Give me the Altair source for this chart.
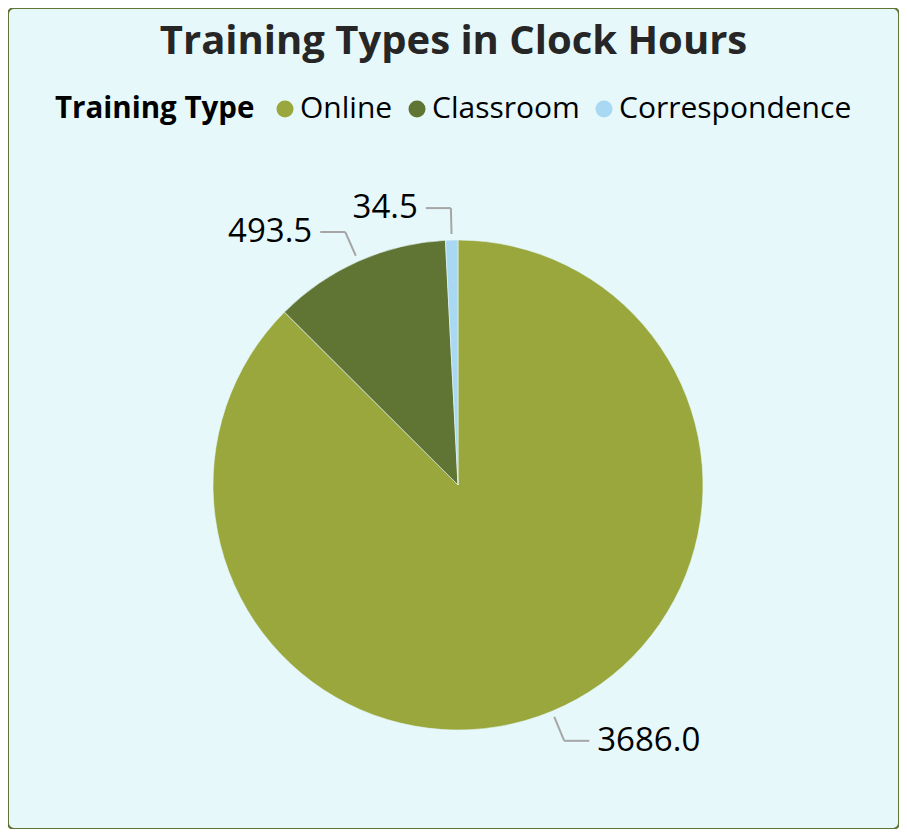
import altair as alt
import pandas as pd

# ---- data ----
types = ["Online", "Classroom", "Correspondence"]
hours = [3686.0, 493.5, 34.5]
order = [0, 1, 2]
colors = ["#99a73c", "#607433", "#a9d8f2"]

BG = "#e6f8fa"
FRAME = "#607433"
FONT = "Open Sans"

df = pd.DataFrame({"type": types, "hours": hours, "order": order})

W, H = 891, 821
CX, CY = 450, 477
R = 245
R0, R1 = 251, 277
HL = 25
GAP = 8

pie = alt.Chart(df).mark_arc(outerRadius=R, stroke=BG, strokeWidth=0.6).encode(
    theta=alt.Theta("hours:Q", stack=True),
    order=alt.Order("order:Q"),
    color=alt.Color(
        "type:N",
        scale=alt.Scale(domain=types, range=colors),
        legend=alt.Legend(
            title="Training Type",
            orient="none",
            legendX=47,
            legendY=86,
            direction="horizontal",
            titleOrient="left",
            titleFontSize=29.5,
            titleFontWeight="bold",
            titleColor="#000000",
            titleFont=FONT,
            titlePadding=15,
            titleBaseline="middle",
            titleLimit=0,
            labelFontSize=30,
            labelFont=FONT,
            labelColor="#000000",
            labelOffset=0,
            labelLimit=0,
            symbolType="circle",
            symbolSize=290,
            symbolStrokeWidth=0,
            columnPadding=9,
        ),
    ),
    x=alt.value(CX),
    y=alt.value(CY),
)

geo = (
    alt.Chart(df)
    .transform_joinaggregate(total="sum(hours)")
    .transform_window(cum="sum(hours)", sort=[alt.SortField("order")])
    .transform_calculate(mid="(datum.cum - datum.hours/2)/datum.total*2*PI")
    .transform_calculate(s="sin(datum.mid)")
    .transform_calculate(c="cos(datum.mid)")
    .transform_calculate(side="datum.s >= 0 ? 1 : -1")
    .transform_calculate(x0=f"{CX} + {R0}*datum.s")
    .transform_calculate(y0=f"{CY} - {R0}*datum.c")
    .transform_calculate(x1=f"{CX} + {R1}*datum.s")
    .transform_calculate(y1=f"{CY} - {R1}*datum.c")
    .transform_calculate(x2=f"datum.x1 + datum.side*{HL}")
    .transform_calculate(xl=f"datum.x2 + datum.side*{GAP}")
    .transform_calculate(label="format(datum.hours, '.1f')")
)

lead1 = geo.mark_rule(color="#a6a6a6", strokeWidth=2).encode(
    x=alt.X("x0:Q", scale=None),
    y=alt.Y("y0:Q", scale=None),
    x2="x1:Q",
    y2="y1:Q",
)
lead2 = geo.mark_rule(color="#a6a6a6", strokeWidth=2).encode(
    x=alt.X("x1:Q", scale=None),
    y=alt.Y("y1:Q", scale=None),
    x2="x2:Q",
    y2="y1:Q",
)
txt_r = geo.transform_filter("datum.side > 0").mark_text(
    align="left", baseline="middle", fontSize=33, font=FONT, color="#000000"
).encode(x=alt.X("xl:Q", scale=None), y=alt.Y("y1:Q", scale=None), text="label:N")
txt_l = geo.transform_filter("datum.side < 0").mark_text(
    align="right", baseline="middle", fontSize=33, font=FONT, color="#000000"
).encode(x=alt.X("xl:Q", scale=None), y=alt.Y("y1:Q", scale=None), text="label:N")

chart = (
    alt.layer(pie, lead1, lead2, txt_r, txt_l)
    .properties(
        width=W,
        height=H,
        padding=0,
        autosize=alt.AutoSizeParams(type="none"),
        background="white",
        title=alt.TitleParams(
            "Training Types in Clock Hours",
            fontSize=40,
            fontWeight="bold",
            font=FONT,
            color="#262626",
            anchor="middle",
            offset=-54,
        ),
    )
    .configure_view(fill=BG, stroke=FRAME, strokeWidth=2, cornerRadius=6)
)

chart.save("out.html", embed_options={"renderer": "svg", "actions": False})
